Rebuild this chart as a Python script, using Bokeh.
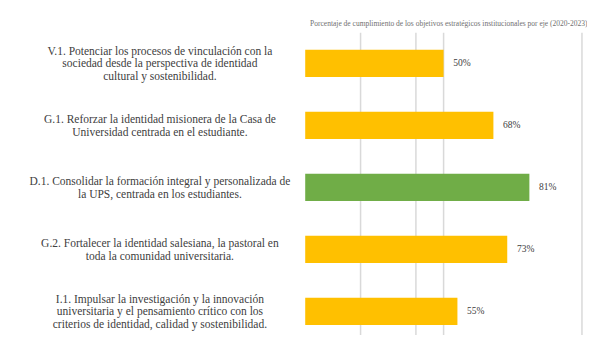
from bokeh.plotting import figure
from bokeh.models import ColumnDataSource, Range1d, LabelSet, Title
from bokeh.embed import file_html
from bokeh.resources import INLINE

categories = [
    "V.1. Potenciar los procesos de vinculación con la\nsociedad desde la perspectiva de identidad\ncultural y sostenibilidad.",
    "G.1. Reforzar la identidad misionera de la Casa de\nUniversidad centrada en el estudiante.",
    "D.1. Consolidar la formación integral y personalizada de\nla UPS, centrada en los estudiantes.",
    "G.2. Fortalecer la identidad salesiana, la pastoral en\ntoda la comunidad universitaria.",
    "I.1. Impulsar la investigación y la innovación\nuniversitaria y el pensamiento crítico con los\ncriterios de identidad, calidad y sostenibilidad.",
]
values = [50, 68, 81, 73, 55]
colors = ["#FFC000", "#FFC000", "#70AD47", "#FFC000", "#FFC000"]
grid_ticks = [20, 40, 50, 100]

Y_TOP, Y_BOTTOM = -0.5, 4.39

pos = list(range(len(values)))
src = ColumnDataSource(dict(
    y=pos, v=values, c=colors,
    lab=[f"{v}%" for v in values],
    lx=[v + 3.5 for v in values],
))

# one entry per text line so that every line is centred
LINE_STEP = 0.205
line_y, line_t = [], []
for i, cat in enumerate(categories):
    lines = cat.split("\n")
    n = len(lines)
    for k, t in enumerate(lines):
        line_y.append(i + (k - (n - 1) / 2) * LINE_STEP)
        line_t.append(t)
cat_src = ColumnDataSource(dict(y=line_y, t=line_t, x=[-52.5] * len(line_t)))

p = figure(width=587, height=335, output_backend="svg", toolbar_location=None,
           x_range=Range1d(-110.1, 102), y_range=Range1d(Y_BOTTOM, Y_TOP),
           min_border_left=0, min_border_right=0, min_border_top=32, min_border_bottom=0)
p.outline_line_color = None
p.background_fill_color = "white"
p.border_fill_color = "white"
p.xaxis.visible = False
p.yaxis.visible = False
p.grid.grid_line_color = None

p.segment(x0=grid_ticks, x1=grid_ticks, y0=[Y_TOP] * len(grid_ticks), y1=[Y_BOTTOM] * len(grid_ticks),
          line_color="#d9d9d9", line_width=1.5, level="underlay")

p.hbar(y="y", right="v", left=0, height=0.44, fill_color="c", line_color=None, source=src)

p.add_layout(LabelSet(x="lx", y="y", text="lab", source=src, text_font="Liberation Serif",
                      text_font_size="9.5px", text_color="#404040", text_baseline="middle",
                      text_align="left"))
p.add_layout(LabelSet(x="x", y="y", text="t", source=cat_src, text_font="Liberation Serif",
                      text_font_size="11.5px", text_color="#404040", text_baseline="middle",
                      text_align="center"))

p.add_layout(Title(text="Porcentaje de cumplimiento de los objetivos estratégicos institucionales por eje (2020-2023)",
                   align="right", text_font_size="7.5px", text_color="#707070",
                   text_font_style="normal", text_font="Liberation Serif"), "above")

open("out.html", "w").write(file_html(p, INLINE))
